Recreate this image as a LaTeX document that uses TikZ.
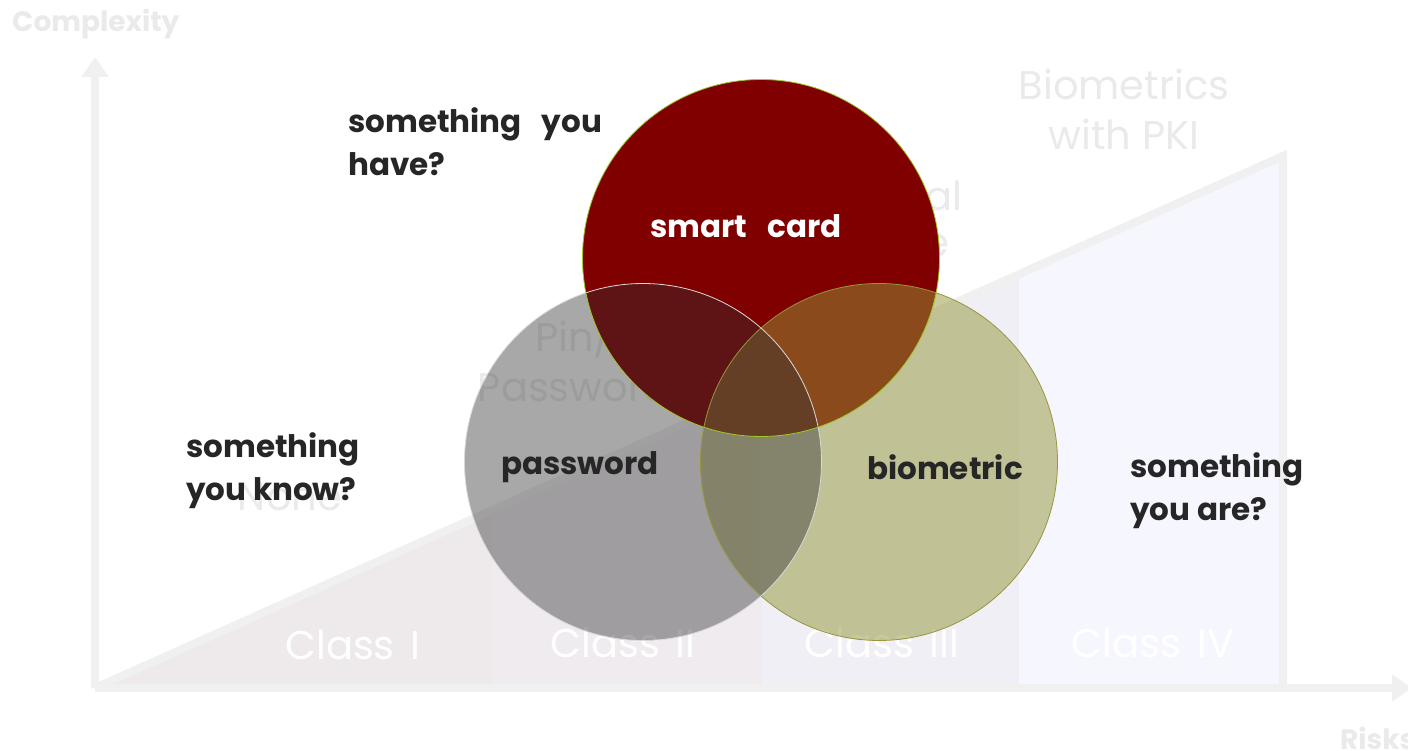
\documentclass[tikz,border=0pt]{standalone}
\usepackage{fontspec}
\setmainfont{Poppins}
\usetikzlibrary{arrows.meta}
\newcommand{\wideclass}{\spaceskip 0.4em plus 0.1em\relax}
\newcommand{\widemain}{\spaceskip 0.65em plus 0.1em\relax}
\definecolor{axisgray}{RGB}{240,240,240}
\definecolor{fadedtxt}{RGB}{234,234,234}
\definecolor{darktxt}{RGB}{38,38,38}
\definecolor{stripA}{RGB}{238,234,235}
\definecolor{stripB}{RGB}{239,235,238}
\definecolor{stripC}{RGB}{240,239,245}
\definecolor{stripD}{RGB}{246,246,254}
\definecolor{cardred}{RGB}{128,0,0}
\definecolor{cardedge}{RGB}{160,200,40}
\definecolor{pwgray}{RGB}{48,48,50}
\definecolor{biofill}{RGB}{148,148,56}
\definecolor{bioedge}{RGB}{150,150,60}
\begin{document}
\begin{tikzpicture}[x=1pt,y=-1pt,
  axisline/.style={draw=axisgray, line width=8pt},
  faded/.style={text=fadedtxt, font=\fontsize{40}{50}\selectfont, inner sep=0pt},
  fadedbold/.style={text=fadedtxt, font=\bfseries\fontsize{28}{34}\selectfont, inner sep=0pt},
  classlbl/.style={text=white, font=\fontsize{40}{48}\selectfont, inner sep=0pt},
  mainlbl/.style={text=darktxt, font=\bfseries\fontsize{31}{43}\selectfont, align=left, inner sep=0pt},
  venn/.style={circle, minimum size=357pt, inner sep=0pt},
]
\clip (0,0) rectangle (1408,751);
\fill[white] (0,0) rectangle (1408,751);

% triangle strips
\coordinate (tA) at (100,684);
\coordinate (tB) at (1280,160);
\coordinate (tC) at (1280,684);
\begin{scope}
  \clip (tA) -- (tB) -- (tC) -- cycle;
  \fill[stripA] (90,150) rectangle (492,684);
  \fill[stripB] (492,150) rectangle (762,684);
  \fill[stripC] (762,150) rectangle (1019,684);
  \fill[stripD] (1019,150) rectangle (1280,684);
\end{scope}
\coordinate (h0) at (95,688);
\coordinate (h1) at (1283,156);
\coordinate (h2) at (1283,688);
\draw[axisline, line join=miter] (h0) -- (h1) -- (h2);

% axes
\coordinate (o) at (95,688);
\coordinate (ytop) at (95,57);
\coordinate (xend) at (1412,688);
\draw[axisline, -{Triangle[width=26pt,length=20pt]}] (o) -- (ytop);
\draw[axisline, -{Triangle[width=26pt,length=20pt]}] (o) -- (xend);

% faded labels
\node[fadedbold, anchor=west] (cx) at (12,24) {Complexity};
\node[fadedbold, anchor=west] (rk) at (1340,738) {Risks};
\node[faded, align=center] (bio) at (1124,109) {Biometrics\\with PKI};
\node[faded, align=center] (pin) at (574,358) {Pin/\\Password};
\node[faded] (none) at (290,497) {None};
\node[faded, anchor=east] (al) at (963,196) {al};
\node[faded, anchor=east] (ee) at (949,246) {e};

\node[classlbl] (c1) at (353,645) {\wideclass Class I};
\node[classlbl] (c2) at (623,643) {\wideclass Class II};
\node[classlbl] (c3) at (882,643) {\wideclass Class III};
\node[classlbl] (c4) at (1153,643) {\wideclass Class IV};

% Venn circles
\node[venn, fill=cardred] (card) at (761,258) {};
\node[venn, fill=biofill, fill opacity=0.5] (bm) at (879,462) {};
\node[venn, fill=pwgray, fill opacity=0.416] (pw) at (643,462) {};
\draw[bioedge, line width=0.8pt] (bm.center) circle (178.5);
\draw[white!85!black, line width=0.8pt] (pw.center) circle (178.5);
\draw[cardedge, line width=0.8pt] (card.center) circle (178.5);

% labels
\node[mainlbl, text=white] (sc) at (746,226) {\widemain smart card};
\node[mainlbl] (pwl) at (580,467) {password};
\node[mainlbl] (bml) at (945,467) {biometric};
\node[mainlbl, anchor=west] (have) at (348,142) {\widemain something you\\have?};
\node[mainlbl, anchor=west] (know) at (186,471) {\widemain something\\you know?};
\node[mainlbl, anchor=west] (are) at (1130,491) {\widemain something\\you are?};
\end{tikzpicture}
\end{document}
